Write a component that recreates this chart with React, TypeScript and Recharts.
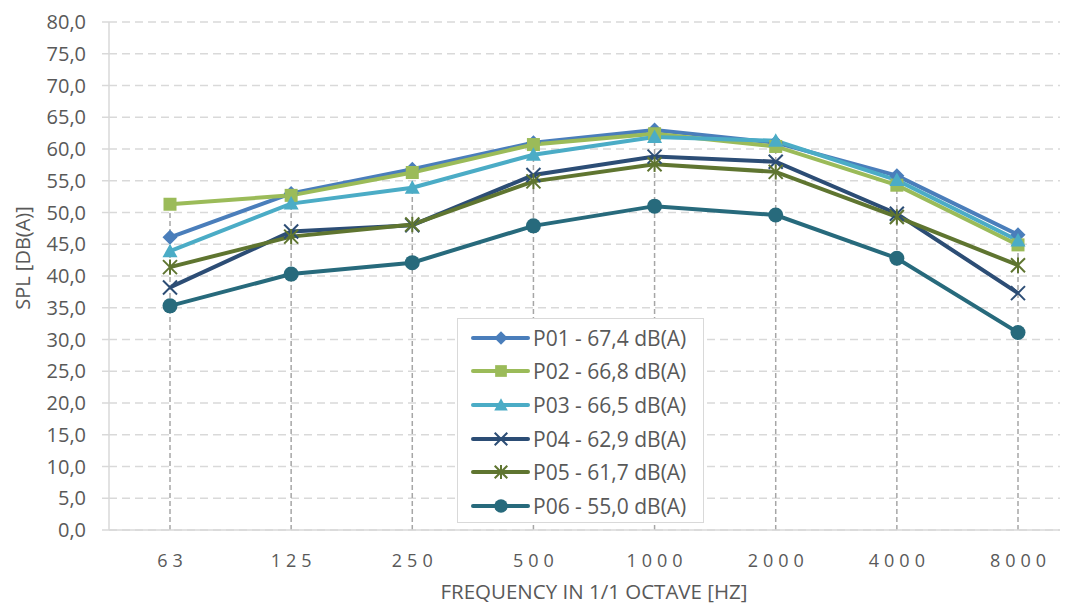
import React from 'react';
import { LineChart, Line, XAxis, YAxis, CartesianGrid, ReferenceLine } from 'recharts';

const categories = ['63', '125', '250', '500', '1000', '2000', '4000', '8000'];
const p01 = [46.1, 53.0, 56.8, 61.0, 63.0, 61.0, 55.8, 46.5];
const p02 = [51.3, 52.7, 56.3, 60.7, 62.4, 60.4, 54.3, 44.9];
const p03 = [43.9, 51.4, 53.9, 59.1, 61.9, 61.3, 55.1, 45.6];
const p04 = [38.2, 47.0, 48.0, 55.9, 58.8, 58.0, 49.8, 37.3];
const p05 = [41.4, 46.2, 48.1, 54.9, 57.6, 56.4, 49.3, 41.7];
const p06 = [35.3, 40.3, 42.1, 47.9, 51.0, 49.6, 42.8, 31.1];
const seriesNames = [
  'P01 - 67,4 dB(A)',
  'P02 - 66,8 dB(A)',
  'P03 - 66,5 dB(A)',
  'P04 - 62,9 dB(A)',
  'P05 - 61,7 dB(A)',
  'P06 - 55,0 dB(A)',
];
const yTicks = [0, 5, 10, 15, 20, 25, 30, 35, 40, 45, 50, 55, 60, 65, 70, 75, 80];
const xTitle = 'FREQUENCY IN 1/1 OCTAVE [HZ]';
const yTitle = 'SPL [DB(A)]';

const seriesValues = [p01, p02, p03, p04, p05, p06];
const keys = ['p01', 'p02', 'p03', 'p04', 'p05', 'p06'];
const colors = ['#4A7EBB', '#9BBB59', '#4BACC6', '#2C4D75', '#5F7530', '#276A7C'];
const shapes = ['diamond', 'square', 'triangle', 'x', 'star', 'circle'];

const data = categories.map((cat, i) => {
  const row: any = { cat };
  keys.forEach((k, s) => {
    row[k] = seriesValues[s][i];
  });
  row.max = Math.max(...seriesValues.map((v) => v[i]));
  return row;
});

const FONT = '"Open Sans", "Noto Sans", sans-serif';
const TEXT = '#595959';

function Marker({ shape, cx, cy, color, k = 1 }: any) {
  switch (shape) {
    case 'diamond': {
      const s = 7.5 * k;
      return <path d={`M${cx},${cy - s}L${cx + s},${cy}L${cx},${cy + s}L${cx - s},${cy}Z`} fill={color} />;
    }
    case 'square': {
      const h = 6.5 * k;
      return <rect x={cx - h} y={cy - h} width={2 * h} height={2 * h} fill={color} />;
    }
    case 'triangle': {
      const s = 7.5 * k;
      return <path d={`M${cx},${cy - s}L${cx + s},${cy + s * 0.8}L${cx - s},${cy + s * 0.8}Z`} fill={color} />;
    }
    case 'x': {
      const s = 7 * k;
      return (
        <g stroke={color} strokeWidth={2}>
          <line x1={cx - s} y1={cy - s} x2={cx + s} y2={cy + s} />
          <line x1={cx - s} y1={cy + s} x2={cx + s} y2={cy - s} />
        </g>
      );
    }
    case 'star': {
      const s = 7 * k;
      return (
        <g stroke={color} strokeWidth={2}>
          <line x1={cx - s} y1={cy - s} x2={cx + s} y2={cy + s} />
          <line x1={cx - s} y1={cy + s} x2={cx + s} y2={cy - s} />
          <line x1={cx} y1={cy - s * 1.1} x2={cx} y2={cy + s * 1.1} />
        </g>
      );
    }
    default:
      return <circle cx={cx} cy={cy} r={7.5 * k} fill={color} />;
  }
}

const makeDot = (shape: string, color: string) => (props: any) => {
  const { cx, cy, index } = props;
  return (
    <g key={`${shape}-${index}`}>
      <Marker shape={shape} cx={cx} cy={cy} color={color} />
    </g>
  );
};

const XTick = (props: any) => {
  const { x, y, payload } = props;
  return (
    <text x={x + 2.5} y={y} dy="0.71em" textAnchor="middle" fill={TEXT} fontSize={18} fontFamily={FONT} letterSpacing={5}>
      {payload.value}
    </text>
  );
};

const YTitle = (props: any) => {
  const { viewBox } = props;
  const x = viewBox.x + 14;
  const y = viewBox.y + viewBox.height / 2 - 18;
  return (
    <text x={x} y={y} transform={`rotate(-90 ${x} ${y})`} textAnchor="middle" dominantBaseline="central" fill={TEXT} fontSize={20} fontFamily={FONT}>
      {yTitle}
    </text>
  );
};

const LegendBox = () => (
  <div
    style={{
      position: 'absolute',
      left: 449,
      top: 310,
      width: 247,
      height: 205,
      border: '1px solid #d9d9d9',
      background: '#fff',
      boxSizing: 'border-box',
      paddingTop: 2,
      fontFamily: FONT,
    }}
  >
    {seriesNames.map((name, i) => (
      <div key={name} style={{ display: 'flex', alignItems: 'center', height: 33.6 }}>
        <svg width={75} height={30} style={{ display: 'block', flexShrink: 0 }}>
          <line x1={15} y1={15} x2={70} y2={15} stroke={colors[i]} strokeWidth={4} strokeLinecap="round" />
          <Marker shape={shapes[i]} cx={43} cy={15} color={colors[i]} k={0.9} />
        </svg>
        <span style={{ fontSize: 21, color: TEXT, whiteSpace: 'nowrap' }}>{name}</span>
      </div>
    ))}
  </div>
);

export default function App() {
  return (
    <div style={{ position: 'relative', width: 1060, height: 598, overflow: 'hidden', background: '#fff' }}>
      <LineChart width={1072} height={598} data={data} margin={{ top: 14, right: 1, bottom: 0, left: 0 }}>
        <CartesianGrid vertical={false} stroke="#d9d9d9" strokeWidth={1.5} strokeDasharray="8 5" />
        <XAxis
          dataKey="cat"
          padding={{ left: 61, right: 61 }}
          axisLine={{ stroke: '#d9d9d9', strokeWidth: 1.5 }}
          tickLine={false}
          height={76}
          tickMargin={18}
          tick={<XTick />}
          interval={0}
          label={{ value: xTitle, position: 'insideBottom', offset: 7, fill: TEXT, fontSize: 20.5, fontFamily: FONT }}
        />
        <YAxis
          domain={[0, 80]}
          ticks={yTicks}
          interval={0}
          width={101}
          tickSize={7}
          tickMargin={16}
          tickLine={{ stroke: '#d9d9d9', strokeWidth: 1.5 }}
          axisLine={{ stroke: '#d9d9d9', strokeWidth: 1.5 }}
          tick={{ fill: TEXT, fontSize: 20, fontFamily: FONT }}
          tickFormatter={(v: number) => v.toFixed(1).replace('.', ',')}
          label={{ content: <YTitle /> }}
        />
        {keys.map((k, i) => (
          <Line
            key={k}
            dataKey={k}
            name={seriesNames[i]}
            stroke={colors[i]}
            strokeWidth={4}
            dot={makeDot(shapes[i], colors[i])}
            activeDot={false}
            isAnimationActive={false}
          />
        ))}
        {data.map((d) => (
          <ReferenceLine
            key={`drop-${d.cat}`}
            segment={[
              { x: d.cat, y: 0 },
              { x: d.cat, y: d.max },
            ]}
            stroke="#a6a6a6"
            strokeWidth={1.5}
            strokeDasharray="5 3"
          />
        ))}
      </LineChart>
      <LegendBox />
    </div>
  );
}
